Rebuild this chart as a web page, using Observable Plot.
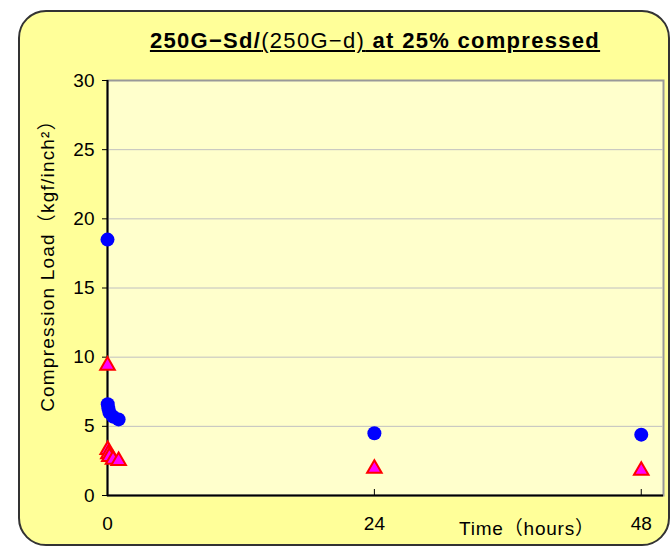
<!DOCTYPE html>
<html>
<head>
<meta charset="utf-8">
<script src="https://cdn.jsdelivr.net/npm/d3@7"></script>
<script src="https://cdn.jsdelivr.net/npm/@observablehq/plot@0.6"></script>
<style>
  body { margin:0; background:#fff; font-family:"Liberation Sans","Noto Sans CJK JP",sans-serif; }
  #wrap { position:relative; width:670px; height:547px; overflow:hidden; }
  #box { position:absolute; left:18px; top:10px; width:648px; height:532px; background:#FFFF99; border:2px solid #333; border-radius:28px; }
  #title { position:absolute; left:0; width:750px; top:28px; text-align:center; font-size:22px; font-weight:bold; text-decoration:underline; color:#000; letter-spacing:1.3px; font-family:"Liberation Sans",sans-serif; }
  #title .n { font-weight:normal; }
  #xlab { position:absolute; left:459px; top:513px; font-size:19px; letter-spacing:0.8px; color:#000; font-family:"Liberation Sans","Noto Sans CJK JP",sans-serif; }
  #ylab { position:absolute; left:48px; top:261px; width:400px; margin-left:-200px; margin-top:-12px; text-align:center; font-size:19px; letter-spacing:1.2px; line-height:24px; transform:rotate(-90deg); color:#000; font-family:"Liberation Sans","Noto Sans CJK JP",sans-serif; }
  #chart { position:absolute; left:0; top:0; }
  #chart svg text { font-size:19px; }
</style>
</head>
<body>
<div id="wrap">
  <div id="box"></div>
  <div id="title">250G−Sd/<span class="n">(250G−d)</span> at 25% compressed</div>
  <div id="chart"></div>
  <div id="xlab"></div>
  <div id="ylab"></div>
</div>
<script>
const times = [0, 0.02, 0.08, 0.17, 0.5, 1, 24, 48];
const sdValues = [18.5, 6.6, 6.3, 6.0, 5.7, 5.5, 4.5, 4.4];
const dValues = [9.4, 3.3, 3.0, 2.8, 2.6, 2.5, 1.95, 1.8];
const yTicks = [0, 5, 10, 15, 20, 25, 30];
const xTicks = [0, 24, 48];
const yLabel = "Compression Load（kgf/inch²）";
const xLabel = "Time（hours）";

document.getElementById("xlab").textContent = xLabel;
document.getElementById("ylab").textContent = yLabel;

const sd = times.map((t, i) => ({t, v: sdValues[i]}));
const dd = times.map((t, i) => ({t, v: dValues[i]}));

const chart = Plot.plot({
  width: 670,
  height: 547,
  marginLeft: 107,
  marginTop: 80,
  marginRight: 7,
  marginBottom: 52,
  style: {background: "transparent", fontFamily: "'Liberation Sans', sans-serif", fontSize: "19px", color: "#000"},
  x: {domain: [0, 50]},
  y: {domain: [0, 30]},
  marks: [
    Plot.frame({fill: "#FFFFCC", stroke: "#999", strokeWidth: 2}),
    Plot.gridY(yTicks.slice(1, -1), {stroke: "#C0C0C0", strokeOpacity: 1}),
    Plot.axisY(yTicks, {tickSize: 5, tickPadding: 8, fontSize: 19, label: null, stroke: "#000"}),
    Plot.axisX(xTicks, {tickSize: -6, tickPadding: 27, fontSize: 19, label: null, stroke: "#000"}),
    Plot.ruleX([0], {stroke: "#000", strokeWidth: 2}),
    Plot.ruleY([0], {stroke: "#000", strokeWidth: 2}),
    Plot.dot(sd, {x: "t", y: "v", r: 7, fill: "#0000FF", stroke: "none"}),
    Plot.dot(dd, {x: "t", y: "v", symbol: "triangle", r: 5.4, fill: "#FF00FF", stroke: "#FF0000", strokeWidth: 2})
  ]
});
document.getElementById("chart").appendChild(chart);
</script>
</body>
</html>
